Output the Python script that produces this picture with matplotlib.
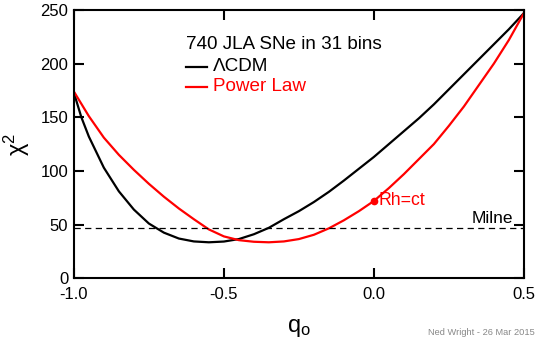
import matplotlib
matplotlib.use("Agg")
import matplotlib.pyplot as plt

plt.rcParams['font.family'] = ['Liberation Sans', 'DejaVu Sans']
plt.rcParams['mathtext.fontset'] = 'custom'
plt.rcParams['mathtext.rm'] = 'Liberation Sans'
plt.rcParams['mathtext.it'] = 'Liberation Sans'

# Data
q_lcdm = [-1.00, -0.975, -0.95, -0.90, -0.85, -0.80, -0.75, -0.70, -0.65, -0.60,
          -0.55, -0.50, -0.45, -0.40, -0.35, -0.30, -0.25, -0.20, -0.15, -0.10,
          -0.05, 0.00, 0.05, 0.10, 0.15, 0.20, 0.25, 0.30, 0.35, 0.40, 0.45, 0.50]
chi_lcdm = [173, 150, 132, 103, 81, 64, 51, 42.5, 37, 34.3,
            33.5, 34.2, 36.5, 41, 47, 55, 62.5, 71, 80.5, 91,
            102, 113, 125, 137, 149, 162, 176, 190, 204, 218, 232, 247]

q_pl = [-1.00, -0.95, -0.90, -0.85, -0.80, -0.75, -0.70, -0.65, -0.60, -0.55,
        -0.50, -0.45, -0.40, -0.35, -0.30, -0.25, -0.20, -0.15, -0.10, -0.05,
        0.00, 0.05, 0.10, 0.15, 0.20, 0.25, 0.30, 0.35, 0.40, 0.45, 0.50]
chi_pl = [174, 151, 131, 115, 101, 88, 76, 65, 55, 45.5,
          39, 35.5, 34, 33.5, 34.3, 36.5, 40.5, 46.5, 54, 62.5,
          72, 84, 97, 111, 125, 142, 160, 180, 200, 222, 247]

milne_chi2 = 47
rhct_q, rhct_chi2 = 0.0, 72

xticks = [-1.0, -0.5, 0.0, 0.5]
xticklabels = ['-1.0', '-0.5', '0.0', '0.5']
yticks = [0, 50, 100, 150, 200, 250]
yticklabels = ['0', '50', '100', '150', '200', '250']

fig = plt.figure(figsize=(5.39, 3.41), dpi=100)
ax = fig.add_axes([0.137, 0.184, 0.835, 0.787])

ax.plot(q_lcdm, chi_lcdm, color='black', lw=1.6, solid_joinstyle='round')
ax.plot(q_pl, chi_pl, color='red', lw=1.6, solid_joinstyle='round')
ax.axhline(milne_chi2, color='black', lw=0.9, dashes=(5, 3.5))
ax.plot([rhct_q], [rhct_chi2], 'o', color='red', ms=4.5)

ax.text(rhct_q + 0.015, rhct_chi2, 'Rh=ct', color='red', fontsize=12.7,
        va='center', ha='left')
ax.text(0.463, milne_chi2 + 1.5, 'Milne', color='black', fontsize=12.5,
        va='bottom', ha='right')

ax.text(-0.627, 217.5, '740 JLA SNe in 31 bins', fontsize=13.6, va='center', ha='left')
ax.plot([-0.627, -0.557], [197, 197], color='black', lw=1.6)
ax.text(-0.537, 197, '\u039bCDM', fontsize=13.6, va='center', ha='left')
ax.plot([-0.627, -0.557], [178.5, 178.5], color='red', lw=1.6)
ax.text(-0.537, 178.5, 'Power Law', fontsize=13.6, va='center', ha='left', color='red')

ax.set_xlim(-1.0, 0.5)
ax.set_ylim(0, 250)
ax.set_xticks(xticks)
ax.set_xticklabels(xticklabels)
ax.set_yticks(yticks)
ax.set_yticklabels(yticklabels)
ax.tick_params(direction='in', length=7, width=1.5, labelsize=12,
               top=True, right=True)
ax.tick_params(axis='x', pad=6)
ax.tick_params(axis='y', pad=4)
for s in ax.spines.values():
    s.set_linewidth(1.5)

ax.set_xlabel('q$_\\mathrm{o}$', fontsize=17, labelpad=11)
ax.set_ylabel('\u03c7$^2$', fontsize=17, labelpad=6)

fig.text(0.993, 0.012, 'Ned Wright - 26 Mar 2015', fontsize=6.7, color='#888888',
         ha='right', va='bottom')

fig.savefig('out.png', dpi=100)
